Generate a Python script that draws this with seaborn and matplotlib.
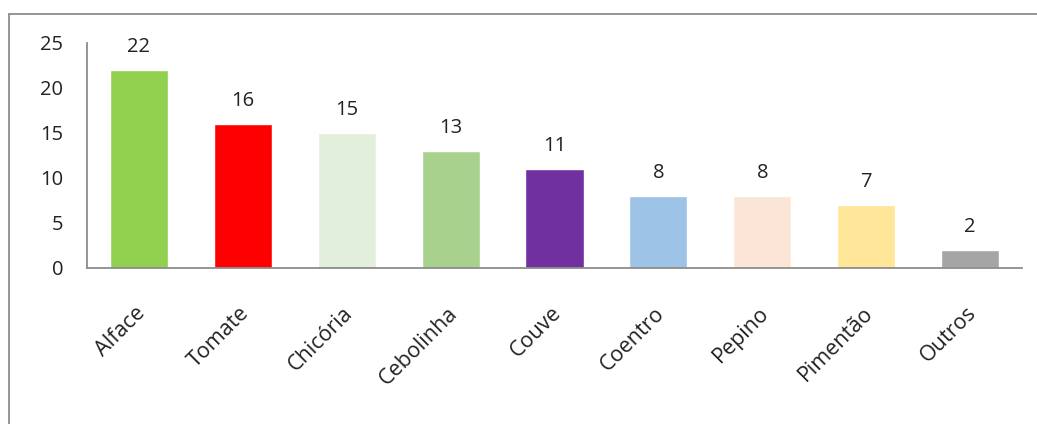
import matplotlib
matplotlib.use("Agg")
import matplotlib.pyplot as plt
import matplotlib.transforms as mtransforms
from matplotlib.lines import Line2D
import seaborn as sns
import pandas as pd

# Hortaliças cultivadas e número de ocorrências
categorias = ["Alface", "Tomate", "Chicória", "Cebolinha", "Couve",
              "Coentro", "Pepino", "Pimentão", "Outros"]
valores = [22, 16, 15, 13, 11, 8, 8, 7, 2]
cores = ["#92D050", "#FF0000", "#E2EFDA", "#A9D18E", "#7030A0",
         "#9DC3E6", "#FBE5D6", "#FFE699", "#A5A5A5"]
yticks = [0, 5, 10, 15, 20, 25]

df = pd.DataFrame({"categoria": categorias, "valor": valores})

sns.set_theme(style="white")
plt.rcParams["font.family"] = ["Open Sans", "DejaVu Sans"]

fig = plt.figure(figsize=(10.37, 4.24), dpi=100)
ax = fig.add_axes([0.0839, 0.368, 0.9016, 0.5306])

sns.barplot(data=df, x="categoria", y="valor", hue="categoria",
            palette=cores, legend=False, width=0.56, saturation=1,
            ax=ax)

ax.set_ylim(0, 25)
ax.set_xlim(-0.5, len(categorias) - 0.5)
ax.set_yticks(yticks)
ax.set_xlabel("")
ax.set_ylabel("")

for s in ["top", "right"]:
    ax.spines[s].set_visible(False)
for s in ["left", "bottom"]:
    ax.spines[s].set_color("#8C8C8C")
    ax.spines[s].set_linewidth(1.3)

ax.tick_params(axis="y", length=0, pad=17, labelsize=14.5, labelcolor="#222222")
ax.tick_params(axis="x", length=0, pad=25, labelsize=15.5, labelcolor="#222222")
shift = mtransforms.ScaledTranslation(-4 / 100, 0, fig.dpi_scale_trans)
for lbl in ax.get_xticklabels():
    lbl.set_rotation(45)
    lbl.set_ha("right")
    lbl.set_va("top")
    lbl.set_rotation_mode("anchor")
    lbl.set_transform(lbl.get_transform() + shift)

for i, v in enumerate(valores):
    ax.annotate(str(v), xy=(i, v), xytext=(0, 9), textcoords="offset points",
                ha="center", va="bottom", fontsize=14.5, color="#222222")

# moldura externa do gráfico
fig.add_artist(Line2D([9 / 1037, 1.0], [1 - 14 / 424, 1 - 14 / 424],
                      transform=fig.transFigure, color="#8C8C8C", lw=1.3))
fig.add_artist(Line2D([9 / 1037, 9 / 1037], [0.0, 1 - 14 / 424],
                      transform=fig.transFigure, color="#8C8C8C", lw=1.3))

fig.savefig("out.png", dpi=100, facecolor="white")
